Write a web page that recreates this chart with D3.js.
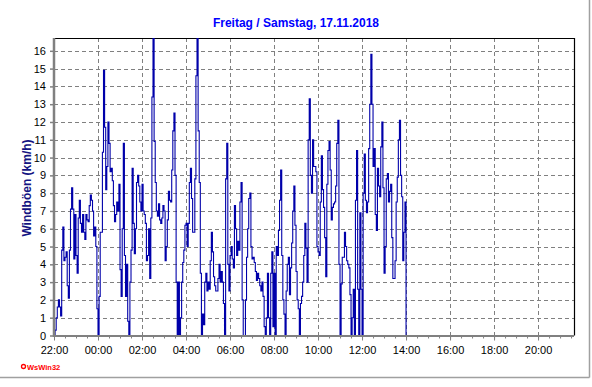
<!DOCTYPE html>
<html>
<head>
<meta charset="utf-8">
<script src="https://cdn.jsdelivr.net/npm/d3@7"></script>
<style>
  html, body { margin: 0; padding: 0; background: #fff; }
  svg { display: block; }
  text { font-family: "Liberation Sans", Arial, sans-serif; }
</style>
</head>
<body>
<svg id="chart" width="592" height="387"></svg>
<script>
// ---------------- DATA ----------------
const chartTitle = "Freitag / Samstag, 17.11.2018";
const yAxisLabel = "Windböen (km/h)";
const startTime = "2018-11-16T22:00";
const endTime = "2018-11-17T21:38";
const sampleMinutes = 3;
const yTicks = [0,1,2,3,4,5,6,7,8,9,10,11,12,13,14,15,16];
const xTickLabels = ["22:00","00:00","02:00","04:00","06:00","08:00","10:00","12:00","14:00","16:00","18:00","20:00"];
// wind gusts (km/h), one value every 3 minutes from 22:00 to 14:00
const gusts = [
  0, 0.3, 1.0, 1.6, 2.0, 1.6, 1.1, 4.8, 6.1, 4.2,
  4.4, 4.7, 2.8, 2.1, 4.8, 7.1, 8.3, 7.1, 4.3, 6.8,
  4.5, 3.5, 6.6, 7.6, 6.3, 5.8, 6.8, 5.8, 5.4, 6.8,
  6.5, 6.4, 7.3, 7.9, 7.6, 7.0, 5.6, 6.1, 5.0, 1.5,
  0, 2.2, 5.8, 5.8, 10.3, 14.9, 11.7, 8.2, 9.5, 12.0,
  10.8, 9.2, 9.4, 8.7, 7.3, 6.4, 6.8, 7.5, 7.0, 8.5,
  3.7, 2.2, 6.0, 10.8, 4.5, 2.2, 4.0, 0.8, 0, 3.0,
  4.8, 9.4, 6.3, 4.6, 6.0, 8.6, 9.0, 8.4, 7.5, 7.0,
  8.5, 7.0, 6.8, 6.3, 4.2, 4.5, 6.0, 3.2, 6.6, 13.4,
  16.7, 10.9, 8.6, 7.0, 6.7, 7.4, 6.5, 6.3, 6.6, 7.3,
  7.0, 4.2, 5.0, 6.5, 8.1, 7.6, 7.5, 9.3, 11.5, 12.5,
  9.0, 3.0, 0, 3.0, 0, 1.0, 3.0, 4.1, 4.8, 6.2,
  6.3, 5.0, 6.3, 8.6, 9.4, 7.7, 5.8, 5.8, 8.8, 14.6,
  16.7, 11.5, 8.6, 3.5, 0, 1.2, 0.6, 3.0, 3.5, 2.5,
  3.0, 2.6, 4.2, 5.8, 4.7, 3.3, 2.8, 2.5, 2.5, 3.2,
  4.0, 3.0, 3.6, 3.0, 1.8, 0, 8.8, 10.8, 4.0, 2.5,
  4.5, 5.0, 4.3, 3.8, 7.3, 6.0, 4.5, 5.3, 4.8, 7.5,
  8.6, 2.0, 0, 0, 2.0, 4.4, 6.0, 7.7, 8.0, 5.0,
  4.3, 4.4, 4.1, 3.6, 3.1, 3.5, 3.2, 2.8, 2.5, 3.0,
  2.2, 0.5, 0, 1.0, 3.5, 1.0, 0, 3.5, 4.7, 0.5,
  3.5, 0, 5.0, 4.5, 5.9, 7.6, 9.3, 4.5, 2.0, 1.2,
  0, 2.5, 4.0, 4.4, 2.3, 3.8, 5.2, 7.0, 8.4, 6.2,
  3.6, 2.0, 1.5, 0, 1.8, 2.2, 3.0, 4.5, 6.3, 4.9,
  3.0, 11.0, 13.3, 9.0, 8.0, 11.0, 9.5, 9.5, 9.2, 5.0,
  4.7, 4.5, 7.5, 10.1, 8.2, 7.2, 5.5, 3.3, 8.5, 10.4,
  10.9, 9.3, 6.5, 7.2, 7.4, 7.5, 8.4, 10.8, 12.1, 4.0,
  0, 2.9, 4.4, 4.4, 5.8, 5.0, 4.2, 4.0, 3.8, 2.3,
  0, 1.0, 2.6, 0, 7.6, 10.4, 2.6, 0, 6.9, 2.6,
  0, 8.0, 10.2, 7.6, 6.9, 7.5, 10.5, 13.0, 15.8, 13.0,
  9.5, 10.5, 6.8, 5.9, 9.4, 8.4, 7.8, 10.6, 12.0, 8.3,
  3.5, 5.0, 8.8, 9.1, 7.5, 8.1, 8.5, 5.5, 3.2, 3.2,
  4.2, 7.5, 8.9, 11.0, 12.1, 9.0, 7.8, 4.2, 5.8, 7.5,
  0
];
const noDataValue = 0; // line continues at 0 after the last reading

// ---------------- CHART ----------------
const svg = d3.select("#chart");
const m = { left: 54, right: 574, top: 38, bottom: 335.5 };

const parse = d3.timeParse("%Y-%m-%dT%H:%M");
const t0 = parse(startTime), t1 = parse(endTime);

const x = d3.scaleTime().domain([t0, t1]).range([m.left, m.right]);
const y = d3.scaleLinear().domain([0, 16.72]).range([m.bottom, m.top]);

const series = gusts.map((v, i) => ({ t: d3.timeMinute.offset(t0, i * sampleMinutes), v }));
series.push({ t: t1, v: noDataValue });

const xTickDates = xTickLabels.map(lab => {
  const [hh, mm] = lab.split(":").map(Number);
  let d = new Date(t0); d.setHours(hh, mm, 0, 0);
  if (d < t0) d = d3.timeDay.offset(d, 1);
  return d;
});

// outer frame (shadow lines)
svg.append("line").attr("x1", 0).attr("x2", 589.5).attr("y1", 377.5).attr("y2", 377.5)
  .attr("stroke", "#a0a0a0").attr("stroke-width", 1.5);
svg.append("line").attr("x1", 589.5).attr("x2", 589.5).attr("y1", 0).attr("y2", 377.5)
  .attr("stroke", "#a0a0a0").attr("stroke-width", 1.5);

// title
svg.append("text").attr("x", 296).attr("y", 27).attr("text-anchor", "middle")
  .attr("font-size", 12).attr("font-weight", "bold").attr("fill", "#0000ff")
  .text(chartTitle);

// y label
svg.append("text").attr("transform", "translate(31,188) rotate(-90)")
  .attr("text-anchor", "middle").attr("font-size", 12).attr("font-weight", "bold")
  .attr("fill", "#141482").text(yAxisLabel);

// gridlines
const grid = svg.append("g").attr("stroke", "#808080").attr("stroke-width", 1)
  .attr("stroke-dasharray", "4,3").attr("shape-rendering", "crispEdges");
grid.selectAll("line.h").data(yTicks.filter(d => d > 0)).join("line")
  .attr("x1", m.left).attr("x2", m.right)
  .attr("y1", d => Math.round(y(d)) + 0.5).attr("y2", d => Math.round(y(d)) + 0.5);
grid.selectAll("line.v").data(xTickDates.slice(1)).join("line")
  .attr("x1", d => Math.round(x(d)) + 0.5).attr("x2", d => Math.round(x(d)) + 0.5)
  .attr("y1", m.top).attr("y2", m.bottom);

// top & right border
svg.append("line").attr("x1", m.left).attr("x2", m.right + 0.5).attr("y1", m.top + 0.5).attr("y2", m.top + 0.5)
  .attr("stroke", "#000").attr("stroke-width", 1.2);
svg.append("line").attr("x1", m.right + 0.5).attr("x2", m.right + 0.5).attr("y1", m.top).attr("y2", m.bottom)
  .attr("stroke", "#000").attr("stroke-width", 1.2);

// data line
svg.append("clipPath").attr("id", "clip").append("rect")
  .attr("x", m.left).attr("y", m.top).attr("width", m.right - m.left).attr("height", m.bottom - m.top + 1);
const line = d3.line().x(d => x(d.t)).y(d => y(d.v)).curve(d3.curveStepAfter);
svg.append("path").datum(series).attr("clip-path", "url(#clip)")
  .attr("fill", "none").attr("stroke", "#0000aa").attr("stroke-width", 1.1)
  .attr("d", line);

// y axis
const yAxis = d3.axisLeft(y).tickValues(yTicks).tickSize(4).tickPadding(4).tickFormat(d3.format("d"));
const gy = svg.append("g").attr("transform", `translate(${m.left},0)`).call(yAxis);
gy.select(".domain").remove();
gy.selectAll(".tick line").attr("stroke", "#808080").attr("stroke-width", 1.5);
gy.selectAll(".tick text").attr("font-size", 11).attr("fill", "#000")
  .attr("font-family", "'Liberation Sans', Arial, sans-serif");
svg.append("line").attr("x1", m.left).attr("x2", m.left).attr("y1", m.top).attr("y2", m.bottom + 1.5)
  .attr("stroke", "#808080").attr("stroke-width", 2.5);

// x axis
const minorTicks = d3.timeMinute.every(30).range(t0, d3.timeMinute.offset(t1, 1));
const gxMinor = svg.append("g").attr("transform", `translate(0,${m.bottom})`)
  .call(d3.axisBottom(x).tickValues(minorTicks).tickSize(3).tickFormat(""));
gxMinor.select(".domain").remove();
gxMinor.selectAll(".tick line").attr("stroke", "#808080");
const xAxis = d3.axisBottom(x).tickValues(xTickDates).tickSize(5).tickPadding(6)
  .tickFormat((d, i) => xTickLabels[i]);
const gx = svg.append("g").attr("transform", `translate(0,${m.bottom})`).call(xAxis);
gx.select(".domain").remove();
gx.selectAll(".tick line").attr("stroke", "#808080");
gx.selectAll(".tick text").attr("font-size", 11).attr("fill", "#000")
  .attr("font-family", "'Liberation Sans', Arial, sans-serif");
svg.append("line").attr("x1", m.left).attr("x2", m.right).attr("y1", m.bottom + 0.5).attr("y2", m.bottom + 0.5)
  .attr("stroke", "#808080").attr("stroke-width", 2);

// WsWin32 mark
svg.append("circle").attr("cx", 23.5).attr("cy", 366.5).attr("r", 2).attr("fill", "none")
  .attr("stroke", "#ff0000").attr("stroke-width", 1.3);
svg.append("text").attr("x", 27).attr("y", 370).attr("font-size", 7.5).attr("font-weight", "bold")
  .attr("fill", "#ff0000").text("WsWin32");
</script>
</body>
</html>
